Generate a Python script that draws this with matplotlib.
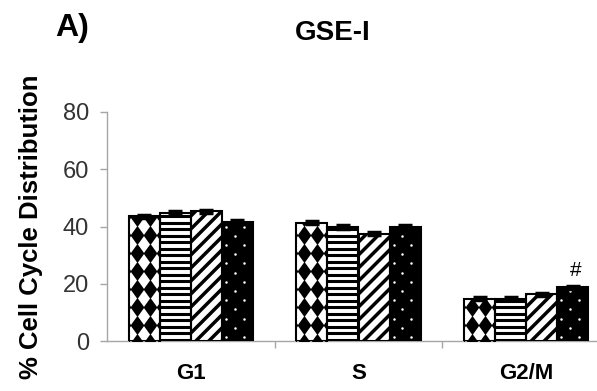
import numpy as np
import matplotlib
matplotlib.use("Agg")
import matplotlib.pyplot as plt
from matplotlib.path import Path
from matplotlib.collections import LineCollection

# ---- data -------------------------------------------------------------
phases = ["G1", "S", "G2/M"]
group_1 = [43.5, 41.3, 14.8]
group_2 = [44.8, 39.8, 14.8]
group_3 = [45.3, 37.5, 16.3]
group_4 = [41.5, 39.8, 18.7]
err_1 = [0.6, 0.6, 0.6]
err_2 = [0.6, 0.6, 0.6]
err_3 = [0.6, 0.6, 0.6]
err_4 = [0.6, 0.6, 0.6]
marks_4 = ["", "", "#"]
yticks = [0, 20, 40, 60, 80]

plt.rcParams["font.family"] = ["Liberation Sans", "DejaVu Sans"]

W, H, DPI = 597, 391, 100
fig = plt.figure(figsize=(W / DPI, H / DPI), dpi=DPI)
ax = fig.add_axes([107 / W, 50 / H, 503 / W, 229 / H])
ax.set_xlim(-0.5, 2.5)
ax.set_ylim(0, 80)

to_px = ax.transData.transform
to_data = ax.transData.inverted().transform


def bar_px(bar):
    x0, y0 = to_px((bar.get_x(), bar.get_y()))
    x1, y1 = to_px((bar.get_x() + bar.get_width(), bar.get_y() + bar.get_height()))
    return x0, y0, x1, y1


def pat_diamonds(bar):
    x0, y0, x1, y1 = bar_px(bar)
    xs, ys = [], []
    for k in range(-1, 40):
        yy = y0 + 16 + 18 * k
        if yy > y1 + 12:
            break
        for i in range(-1, 4):
            xs.append(x0 + 8 + 13 * i)
            ys.append(yy)
    pts = to_data(np.column_stack([xs, ys]))
    diamond = Path([(0, 1), (0.72, 0), (0, -1), (-0.72, 0), (0, 1)],
                   [Path.MOVETO, Path.LINETO, Path.LINETO, Path.LINETO, Path.CLOSEPOLY])
    sc = ax.scatter(pts[:, 0], pts[:, 1], marker=diamond, s=13.8 ** 2,
                    c="black", linewidths=0, zorder=3)
    sc.set_clip_path(bar)


def pat_hlines(bar):
    x0, y0, x1, y1 = bar_px(bar)
    yy = np.arange(y0 + 1.5, y1, 6.5)
    a = to_data(np.column_stack([np.full_like(yy, x0), yy]))
    b = to_data(np.column_stack([np.full_like(yy, x1), yy]))
    segs = [[tuple(p), tuple(q)] for p, q in zip(a, b)]
    lc = LineCollection(segs, colors="black", linewidths=2.2, zorder=3)
    ax.add_collection(lc)
    lc.set_clip_path(bar)


def pat_diag(bar):
    x0, y0, x1, y1 = bar_px(bar)
    span = x1 - x0
    segs = []
    for c in np.arange(y0 - span - 13, y1 + 13, 13.0):
        p = to_data((x0 - 2, c - 2))
        q = to_data((x1 + 2, c + span + 2))
        segs.append([tuple(p), tuple(q)])
    lc = LineCollection(segs, colors="black", linewidths=2.5, zorder=3)
    ax.add_collection(lc)
    lc.set_clip_path(bar)


def pat_dots(bar):
    x0, y0, x1, y1 = bar_px(bar)
    xs, ys = [], []
    k = 0
    yy = y0 + 4
    while yy < y1 - 1:
        off = 8.8 if k % 2 else 0.0
        xx = x0 + 4 + off
        while xx < x1 - 1:
            xs.append(xx)
            ys.append(yy)
            xx += 17.7
        yy += 9.2
        k += 1
    pts = to_data(np.column_stack([xs, ys]))
    sc = ax.scatter(pts[:, 0], pts[:, 1], marker="o", s=1.8 ** 2,
                    c="white", linewidths=0, zorder=3)
    sc.set_clip_path(bar)


series = [
    (group_1, err_1, "white", pat_diamonds),
    (group_2, err_2, "white", pat_hlines),
    (group_3, err_3, "white", pat_diag),
    (group_4, err_4, "black", pat_dots),
]

x = np.arange(len(phases))
bw = 0.185
for j, (vals, errs, face, pattern) in enumerate(series):
    xpos = x + (j - 1.5) * bw
    bars = ax.bar(xpos, vals, width=bw, color=face, edgecolor="none", zorder=2)
    for b in bars:
        pattern(b)
    ax.bar(xpos, vals, width=bw, fill=False, edgecolor="black",
           linewidth=1.5, zorder=4)
    ax.errorbar(xpos, vals, yerr=errs, fmt="none", ecolor="black",
                elinewidth=1.5, capsize=5, capthick=2.5, zorder=5)

xpos4 = x + 1.5 * bw
for xi, v, e, m in zip(xpos4, group_4, err_4, marks_4):
    if m:
        ax.annotate(m, (xi, v + e), xytext=(2, 4), textcoords="offset points",
                    ha="center", va="bottom", fontsize=15, color="black")

# ---- axes styling -----------------------------------------------------
axis_grey = "#a6a6a6"
for side in ("top", "right"):
    ax.spines[side].set_visible(False)
for side in ("left", "bottom"):
    ax.spines[side].set_color(axis_grey)
    ax.spines[side].set_linewidth(1.0)

ax.set_yticks(yticks)
ax.set_yticklabels([str(t) for t in yticks])
ax.tick_params(axis="y", direction="out", length=5, width=1, color=axis_grey,
               pad=8, labelsize=17, labelcolor="#333333")

ax.set_xticks(x)
ax.set_xticklabels(phases, fontweight="bold")
ax.tick_params(axis="x", which="major", length=0, pad=16, labelsize=16,
               labelcolor="black")
ax.set_xticks([0.5, 1.5], minor=True)
ax.tick_params(axis="x", which="minor", direction="out", length=5, width=1,
               color=axis_grey)

ax.set_ylabel("% Cell Cycle Distribution", fontsize=18.5, fontweight="bold",
              labelpad=14)

fig.text(333 / W, 1 - 33 / H, "GSE-I", ha="center", va="center",
         fontsize=20, fontweight="bold")
fig.text(55 / W, 1 - 28 / H, "A)", ha="left", va="center",
         fontsize=23, fontweight="bold")

fig.savefig("out.png", dpi=DPI)
